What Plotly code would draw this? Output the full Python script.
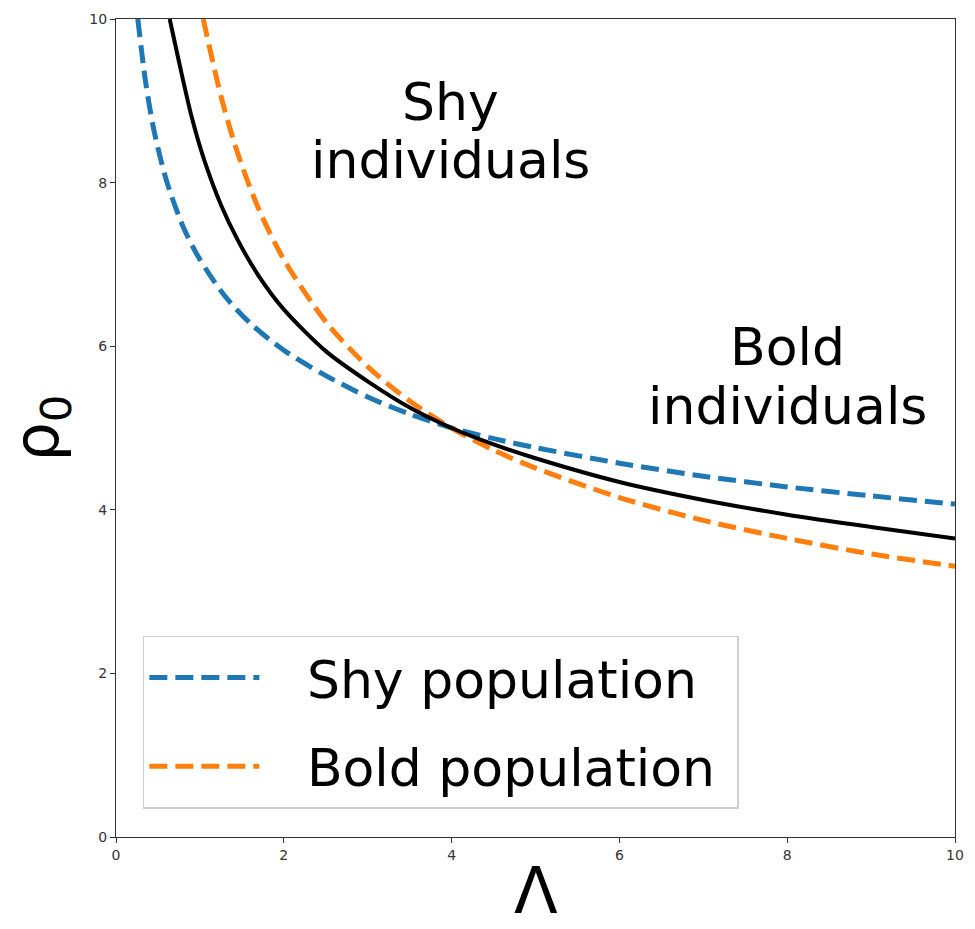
import plotly.graph_objects as go

# Threshold curves rho_0(Lambda), sampled along each curve
lam_mean = [0.64, 0.75, 0.9, 1.05, 1.25, 1.45, 1.7, 2.0, 2.5, 3.0, 3.5, 4.0, 4.5, 5.0, 6.0, 7.0, 8.0, 9.0, 10.0]
rho_mean = [10.0, 9.48, 8.81, 8.28, 7.73, 7.30, 6.86, 6.45, 5.94, 5.57, 5.25, 5.0, 4.80, 4.63, 4.34, 4.12, 3.94, 3.79, 3.65]

lam_shy = [0.26, 0.35, 0.45, 0.6, 0.8, 1.0, 1.3, 1.6, 2.0, 2.5, 3.0, 3.5, 4.0, 4.5, 5.0, 6.0, 7.0, 8.0, 9.0, 10.0]
rho_shy = [10.0, 9.25, 8.65, 8.03, 7.46, 7.06, 6.61, 6.28, 5.95, 5.64, 5.38, 5.17, 5.0, 4.87, 4.76, 4.57, 4.41, 4.28, 4.17, 4.07]

lam_bold = [1.04, 1.25, 1.45, 1.7, 2.0, 2.5, 3.0, 3.5, 4.0, 4.5, 5.0, 6.0, 7.0, 8.0, 9.0, 10.0]
rho_bold = [10.0, 9.06, 8.36, 7.68, 7.06, 6.30, 5.75, 5.33, 5.0, 4.73, 4.51, 4.15, 3.87, 3.65, 3.46, 3.31]

x_ticks = [0, 2, 4, 6, 8, 10]
y_ticks = [0, 2, 4, 6, 8, 10]

BLUE = "#1f77b4"
ORANGE = "#ff7f0e"
FONT = "DejaVu Sans"
PAD = "\u2002\u00a0"  # gap between legend line sample and label
TAIL = "\u00a0"

fig = go.Figure()

fig.add_trace(go.Scatter(
    x=lam_shy, y=rho_shy, mode="lines", name=PAD + "Shy population" + TAIL, legendgroup="shy",
    line=dict(color=BLUE, width=5, dash="18px,8px", shape="spline", smoothing=0.8),
))
fig.add_trace(go.Scatter(
    x=lam_bold, y=rho_bold, mode="lines", name=PAD + "Bold population" + TAIL, legendgroup="bold",
    line=dict(color=ORANGE, width=5, dash="18px,8px", shape="spline", smoothing=0.8),
))
fig.add_trace(go.Scatter(
    x=lam_mean, y=rho_mean, mode="lines", name="mean", showlegend=False,
    line=dict(color="black", width=4, shape="spline", smoothing=0.8),
))

# Region labels, one annotation per line for tighter line spacing
region_labels = [
    ("Shy", 3.99, 8.99),
    ("individuals", 3.99, 8.28),
    ("Bold", 8.0, 5.99),
    ("individuals", 8.0, 5.27),
]
for txt, lx, ly in region_labels:
    fig.add_annotation(x=lx, y=ly, xref="x", yref="y", text=txt, showarrow=False,
                       xanchor="center", yanchor="middle",
                       font=dict(family=FONT, size=52, color="black"))

# x-axis title, sitting against the bottom edge
fig.add_annotation(x=0.5, y=-0.112, xref="paper", yref="paper", text="Λ", showarrow=False,
                   xanchor="center", yanchor="bottom", borderpad=0,
                   font=dict(family=FONT, size=64, color="black"))

axis_common = dict(
    showgrid=False, zeroline=False, showline=True, linecolor="#333333", linewidth=1.3,
    mirror=True, ticks="outside", ticklen=5, tickwidth=1.2, tickcolor="#333333",
    tickfont=dict(family=FONT, size=14, color="#333333"), automargin=False,
)

fig.update_xaxes(
    range=[0, 10], tickvals=x_ticks, ticktext=[str(v) for v in x_ticks],
    **axis_common,
)
fig.update_yaxes(
    range=[0, 10], tickvals=y_ticks, ticktext=[str(v) for v in y_ticks],
    title=dict(text="ρ<sub>0</sub>", font=dict(family=FONT, size=62, color="black")),
    **axis_common,
)

fig.update_layout(
    width=975, height=929,
    margin=dict(l=116, r=20, t=19, b=92),
    paper_bgcolor="white", plot_bgcolor="white",
    showlegend=True,
    legend=dict(
        x=0.032, y=0.246, xanchor="left", yanchor="top",
        bgcolor="rgba(255,255,255,0.9)", bordercolor="#d0d0d0", borderwidth=1.5,
        font=dict(family=FONT, size=52, color="black"),
        itemwidth=110, tracegroupgap=18,
    ),
)

fig.write_html("out.html")
